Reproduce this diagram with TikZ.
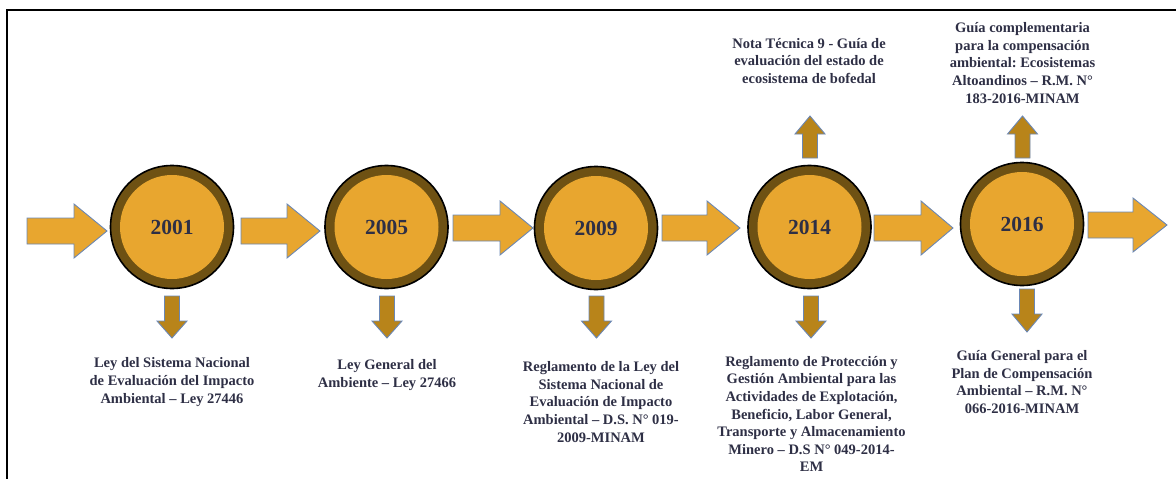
\documentclass[tikz,border=0pt]{standalone}
\usepackage{fontspec}
\setmainfont{Liberation Serif}
\frenchspacing
\definecolor{ring}{HTML}{6E5113}
\definecolor{gold}{HTML}{E8A62F}
\definecolor{ochre}{HTML}{B8841A}
\definecolor{edge}{HTML}{6A87B5}
\definecolor{ink}{HTML}{2E2F45}
\tikzset{
  flow/.style={fill=gold, draw=edge, line width=0.9pt, line join=miter},
  branch/.style={fill=ochre, draw=edge, line width=0.9pt, line join=miter},
  yearring/.style={circle, fill=ring, draw=black, line width=1.6pt, minimum size=123pt, inner sep=0pt},
  yearcore/.style={circle, fill=gold, minimum size=104pt, inner sep=0pt,
    font=\fontsize{21.5}{24}\selectfont\bfseries, text=ink},
  note/.style={align=center, font=\fontsize{14.5}{17.6}\selectfont\bfseries, text=ink, inner sep=0pt},
  frame/.style={draw=black, line width=2.2pt}
}
% horizontal block arrow: start x, head start x, tip x, centre y
\newcommand\flowarrow[4]{%
  \draw[flow] (#1,#4-13) -- (#2,#4-13) -- (#2,#4-27) -- (#3,#4)
    -- (#2,#4+27) -- (#2,#4+13) -- (#1,#4+13) -- cycle;}
% vertical block arrow: centre x, tail y, head base y, tip y
\newcommand\brancharrow[4]{%
  \draw[branch] (#1-7.5,#2) -- (#1+7.5,#2) -- (#1+7.5,#3) -- (#1+15,#3)
    -- (#1,#4) -- (#1-15,#3) -- (#1-7.5,#3) -- cycle;}
\begin{document}
\begin{tikzpicture}[x=1pt,y=-1pt]
\useasboundingbox (0,0) rectangle (1176,479);
\draw[frame] (7,480) -- (7,10) -- (1177,10);

% timeline arrows
\flowarrow{27}{74}{107}{231}
\flowarrow{241}{287}{320}{231}
\flowarrow{453}{500}{533}{228}
\flowarrow{662}{707}{740}{228}
\flowarrow{874}{921}{953}{228}
\flowarrow{1088}{1133}{1167}{225}

% year circles
\foreach \yr/\cx/\cy in {2001/172/227, 2005/386.5/227, 2009/596/228, 2014/809.5/227, 2016/1022/224}{
  \node[yearring] (r\yr) at (\cx,\cy) {};
  \node[yearcore] (y\yr) at (r\yr) {\yr};
}

% branch arrows
\brancharrow{172}{296}{321}{338}
\brancharrow{387}{296}{321}{338}
\brancharrow{596.5}{296}{321}{338}
\brancharrow{811}{296}{321}{338}
\brancharrow{810}{158}{134}{116}
\brancharrow{1027}{289}{314}{332}
\brancharrow{1022.5}{158}{134}{116}

% notes
\node[note] (n2001) at (172,382) {Ley del Sistema Nacional\\de Evaluación del Impacto\\Ambiental – Ley 27446};
\node[note] (n2005) at (387,375) {Ley General del\\Ambiente – Ley 27466};
\node[note] (n2009) at (601,402) {Reglamento de la Ley del\\Sistema Nacional de\\Evaluación de Impacto\\Ambiental – D.S. N° 019-\\2009-MINAM};
\node[note] (n2014b) at (811.5,414) {Reglamento de Protección y\\Gestión Ambiental para las\\Actividades de Explotación,\\Beneficio, Labor General,\\Transporte y Almacenamiento\\Minero – D.S N° 049-2014-\\EM};
\node[note] (n2014a) at (809,61) {Nota Técnica 9 - Guía de\\evaluación del estado de\\ecosistema de bofedal};
\node[note] (n2016a) at (1022.5,63) {Guía complementaria\\para la compensación\\ambiental: Ecosistemas\\Altoandinos – R.M. N°\\183-2016-MINAM};
\node[note] (n2016b) at (1022,382) {Guía General para el\\Plan de Compensación\\Ambiental – R.M. N°\\066-2016-MINAM};
\end{tikzpicture}
\end{document}
